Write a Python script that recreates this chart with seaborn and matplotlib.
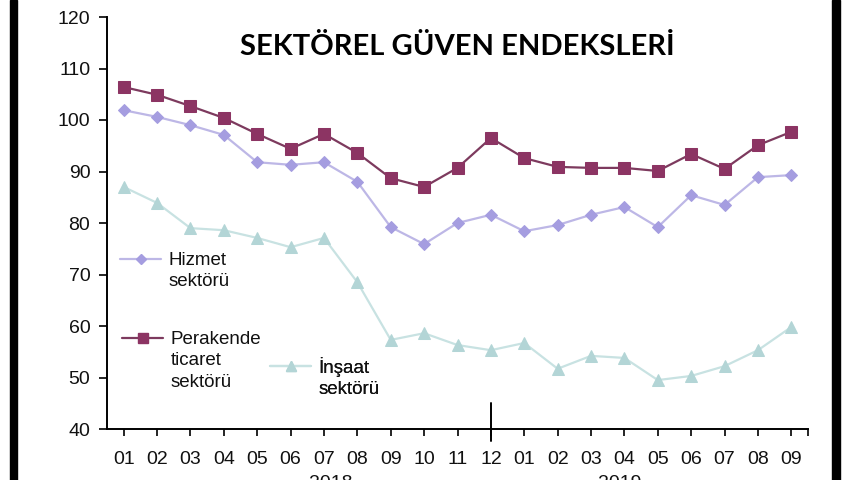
import numpy as np
import pandas as pd
import matplotlib
matplotlib.use("Agg")
import matplotlib.pyplot as plt
import matplotlib.transforms as mtransforms
import seaborn as sns
from matplotlib.lines import Line2D
from matplotlib.patches import Rectangle

# ---- data ----
months = ["01", "02", "03", "04", "05", "06", "07", "08", "09", "10", "11", "12",
          "01", "02", "03", "04", "05", "06", "07", "08", "09"]
years = ["2018", "2019"]
hizmet = [101.9, 100.6, 99.0, 97.1, 91.8, 91.3, 91.8, 88.0, 79.2, 75.9, 80.0, 81.6,
          78.4, 79.6, 81.6, 83.1, 79.2, 85.4, 83.5, 88.9, 89.3]
perakende = [106.4, 104.9, 102.7, 100.4, 97.3, 94.4, 97.3, 93.6, 88.7, 87.0, 90.7, 96.5,
             92.6, 90.9, 90.7, 90.7, 90.1, 93.4, 90.5, 95.1, 97.7]
insaat = [87.0, 83.9, 79.0, 78.6, 77.1, 75.3, 77.1, 68.5, 57.3, 58.6, 56.3, 55.3,
          56.7, 51.7, 54.2, 53.8, 49.5, 50.3, 52.2, 55.3, 59.8]
labels_hizmet = ["Hizmet", "sektörü"]
labels_perakende = ["Perakende", "ticaret", "sektörü"]
labels_insaat = ["İnşaat", "sektörü"]
title = "SEKTÖREL GÜVEN ENDEKSLERİ"
y_ticks = [40, 50, 60, 70, 80, 90, 100, 110, 120]

sns.set_theme(style="white")
plt.rcParams["font.family"] = ["Liberation Sans", "DejaVu Sans"]

W, H = 860, 480
fig = plt.figure(figsize=(8.6, 4.8), dpi=100)
fig.patch.set_facecolor("white")
ax = fig.add_axes([107 / W, 1 - 429 / H, (808 - 107) / W, (429 - 17) / H])
ax.set_facecolor("white")

x = np.arange(len(months))
c_h_line, c_h_mark = "#bdb7e6", "#a59de0"
c_p_line, c_p_mark = "#7d3a5e", "#8c3463"
c_i_line, c_i_mark = "#c8e2e2", "#b3d5d6"

sns.lineplot(x=x, y=insaat, ax=ax, color=c_i_line, lw=1.6, marker="^", markersize=8,
             markerfacecolor=c_i_mark, markeredgecolor=c_i_mark)
sns.lineplot(x=x, y=hizmet, ax=ax, color=c_h_line, lw=1.6, marker="D", markersize=6,
             markerfacecolor=c_h_mark, markeredgecolor=c_h_mark)
sns.lineplot(x=x, y=perakende, ax=ax, color=c_p_line, lw=1.6, marker="s", markersize=8.5,
             markerfacecolor=c_p_mark, markeredgecolor=c_p_mark)

ax.set_xlim(-0.5, len(months) - 0.5)
ax.set_ylim(40, 120)
ax.set_yticks(y_ticks)
ax.set_xticks(x)
ax.set_xticklabels(months)
for s in ["top", "right"]:
    ax.spines[s].set_visible(False)
for s in ["left", "bottom"]:
    ax.spines[s].set_color("black")
    ax.spines[s].set_linewidth(1.4)
ax.tick_params(axis="y", direction="out", length=6, width=1.2, color="black",
               labelsize=14, pad=6, labelcolor="#111111", left=True)
ax.tick_params(axis="x", direction="out", length=5, width=1.2, color="black",
               labelsize=14, pad=11, labelcolor="#111111", bottom=True)
# tick at right end
ax.set_xticks([len(months) - 0.5], minor=True)
ax.tick_params(axis="x", which="minor", direction="out", length=5, width=1.2, color="black", bottom=True)

# year divider (December)
dec = months.index("12")
ax.axvline(dec, ymin=-12 / 412, ymax=26 / 412, color="black", lw=1.4, clip_on=False)

ax.set_xlabel("")
ax.set_ylabel("")

# year labels (partly cut by the bottom edge, as in the source)
year_pos = [dec / 2 + 0.7, (dec + len(months)) / 2 - 1.15]
ytrans = mtransforms.offset_copy(ax.get_xaxis_transform(), fig=fig, y=-46 * 72 / 100, units="points")
for pos, yr in zip(year_pos, years):
    ax.text(pos, 0, yr, transform=ytrans, ha="center", va="top", fontsize=14, color="#111111")

fig.text(457 / W, 1 - 47 / H, title, ha="center", va="center", fontsize=21,
         fontweight="bold", family=["Lato", "DejaVu Sans"], color="black")

# legends: first line carries the line sample, later lines have invisible handles
def make_legend(line_color, mark_color, marker, msize, labels, x_px, y_px):
    h = [Line2D([], [], color=line_color, lw=1.6, marker=marker, markersize=msize,
                markerfacecolor=mark_color, markeredgecolor=mark_color)]
    h += [Line2D([], [], color="none") for _ in labels[1:]]
    leg = ax.legend(h, labels, loc="upper left", bbox_to_anchor=(x_px / W, 1 - y_px / H),
                    bbox_transform=fig.transFigure, frameon=False, fontsize=13.5,
                    handlelength=2.2, handletextpad=0.4, borderpad=0, borderaxespad=0,
                    labelspacing=0.22)
    for t in leg.get_texts():
        t.set_color("#111111")
    ax.add_artist(leg)

make_legend(c_h_line, c_h_mark, "D", 5, labels_hizmet, 120, 252)
make_legend(c_p_line, c_p_mark, "s", 7, labels_perakende, 122, 331)
make_legend(c_i_line, c_i_mark, "^", 7, labels_insaat, 270, 357)

# black frame bars at the sides
fig.add_artist(Rectangle((10 / W, 0), 7 / W, 1, transform=fig.transFigure, color="black"))
fig.add_artist(Rectangle((832 / W, 0), 8 / W, 1, transform=fig.transFigure, color="black"))

fig.savefig("out.png", dpi=100)
